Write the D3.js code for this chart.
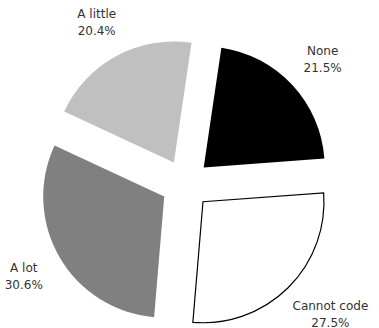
<!DOCTYPE html>
<html>
<head>
<meta charset="utf-8">
<script src="https://cdn.jsdelivr.net/npm/d3@7"></script>
<style>
  body { margin: 0; background: #fff; }
</style>
</head>
<body>
<div class="pie"></div>
<script>
const categories = ["None", "Cannot code", "A lot", "A little"];
const values = [21.5, 27.5, 30.6, 20.4];
const colors = ["#000000", "#ffffff", "#808080", "#c0c0c0"];

const width = 379;
const height = 328;
const cx = 185.6;
const cy = 184.2;
const radius = 121;
const explode = 24.7;
const labelDist = 168;
const startDeg = 8.4;

const svg = d3
  .select(".pie")
  .append("svg")
  .attr("width", width)
  .attr("height", height)
  .append("g")
  .attr("transform", "translate(" + cx + "," + cy + ")");

const data = categories.map((c, i) => ({ name: c, value: values[i], color: colors[i] }));

const start = (startDeg * Math.PI) / 180;
const pie = d3
  .pie()
  .sort(null)
  .value((d) => d.value)
  .startAngle(start)
  .endAngle(start + 2 * Math.PI);

const arc = d3.arc().innerRadius(0).outerRadius(radius);

const arcs = pie(data);

svg
  .selectAll("path")
  .data(arcs)
  .enter()
  .append("path")
  .attr("d", arc)
  .attr("transform", (d) => {
    const a = (d.startAngle + d.endAngle) / 2;
    return "translate(" + explode * Math.sin(a) + "," + -explode * Math.cos(a) + ")";
  })
  .style("fill", (d) => d.data.color)
  .style("stroke", (d) => (d.data.color === "#ffffff" ? "#000" : "none"))
  .style("stroke-width", 1.2);

// labels: two lines, pushed outward by half their box
const lineH = 17;
const labels = svg
  .selectAll("text.lbl")
  .data(arcs)
  .enter()
  .append("text")
  .attr("class", "lbl")
  .attr("text-anchor", "middle")
  .style("font-family", "DejaVu Sans")
  .style("font-size", "12px")
  .style("fill", "#333");

labels.each(function (d) {
  const t = d3.select(this);
  t.append("tspan").attr("x", 0).attr("dy", 0).text(d.data.name);
  t.append("tspan").attr("x", 0).attr("dy", lineH).text(d.data.value.toFixed(1) + "%");
  const bb = this.getBBox();
  const a = (d.startAngle + d.endAngle) / 2;
  const px = labelDist * Math.sin(a) + (bb.width / 2) * Math.sin(a);
  const py = -labelDist * Math.cos(a) - (bb.height / 2) * Math.cos(a);
  // center the block vertically on py
  const top = py - bb.height / 2 - bb.y;
  t.attr("transform", "translate(" + px + "," + top + ")");
});
</script>
</body>
</html>
